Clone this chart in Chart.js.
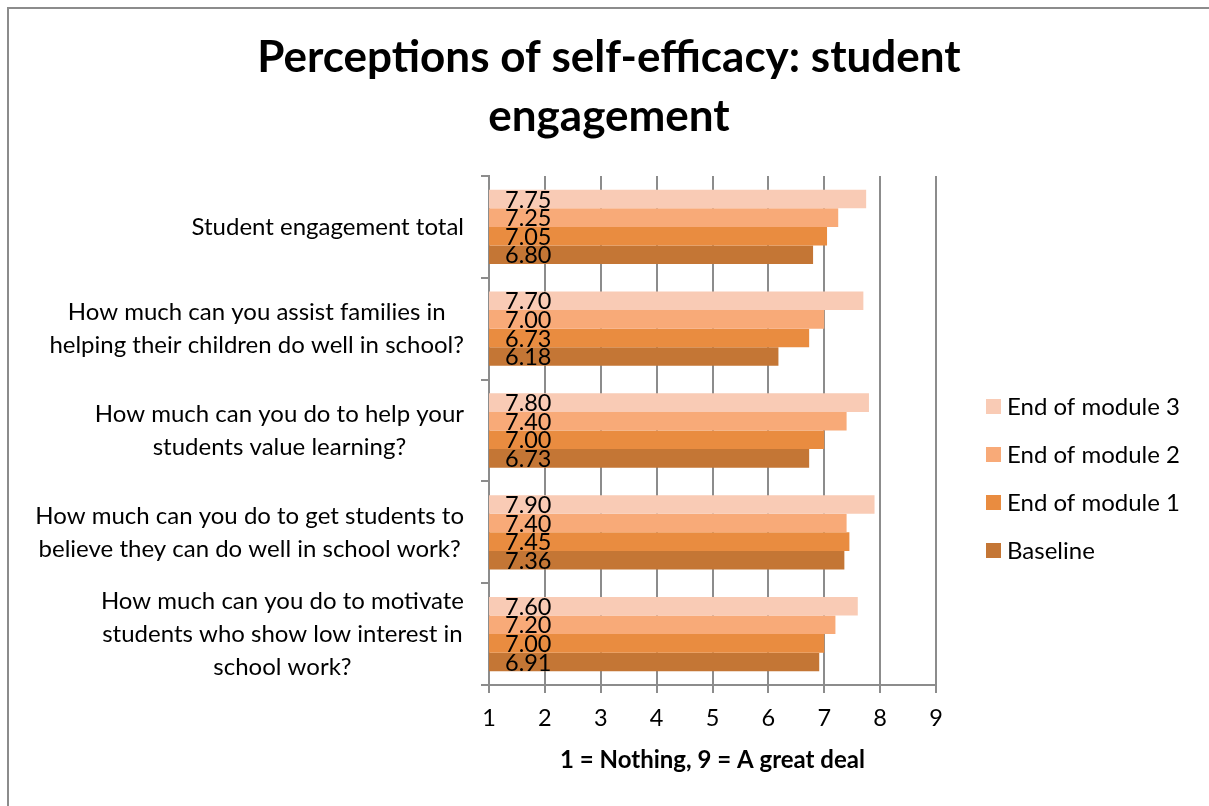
<!DOCTYPE html>
<html>
<head>
<meta charset="utf-8">
<script src="https://cdn.jsdelivr.net/npm/chart.js@4"></script>
<style>
  body { margin: 0; background: #fff; }
  #frame { position: absolute; left: 7px; top: 7px; width: 1400px; height: 1000px;
           border-left: 2px solid #8c8c8c; border-top: 2px solid #8c8c8c; }
  #wrap { position: absolute; left: 0; top: 0; width: 1209px; height: 806px; }
</style>
</head>
<body>
<div id="frame"></div>
<div id="wrap"><canvas id="chart" width="1209" height="806"></canvas></div>
<script>
// data
const titleLines = ['Perceptions of self-efficacy: student', 'engagement'];
const categories = [
  ['Student engagement total'],
  ['How much can you assist families in', 'helping their children do well in school?'],
  ['How much can you do to help your', 'students value learning?'],
  ['How much can you do to get students to', 'believe they can do well in school work?'],
  ['How much can you do to motivate', 'students who show low interest in', 'school work?']
];
const seriesNames = ['End of module 3', 'End of module 2', 'End of module 1', 'Baseline'];
const module3 = [7.75, 7.70, 7.80, 7.90, 7.60];
const module2 = [7.25, 7.00, 7.40, 7.40, 7.20];
const module1 = [7.05, 6.73, 7.00, 7.45, 7.00];
const baseline = [6.80, 6.18, 6.73, 7.36, 6.91];
const xTicks = [1, 2, 3, 4, 5, 6, 7, 8, 9];

const colors = ['#f9cbb5', '#f8aa78', '#e98c40', '#c47635'];
const FONT = 'Lato';
const gray = '#8c8c8c';

// title centred on the whole frame, not just the plot
const frameTitle = {
  id: 'frameTitle',
  afterDraw(chart) {
    const ctx = chart.ctx;
    ctx.save();
    ctx.font = 'bold 44px ' + FONT;
    ctx.fillStyle = '#000';
    ctx.textAlign = 'center';
    ctx.textBaseline = 'middle';
    titleLines.forEach((t, k) => ctx.fillText(t, 609, 58 + k * 59));
    ctx.restore();
  }
};

// bar value labels, drawn at the base of each bar
const valueLabels = {
  id: 'valueLabels',
  afterDatasetsDraw(chart) {
    const ctx = chart.ctx;
    const x0 = chart.scales.x.getPixelForValue(chart.scales.x.min);
    ctx.save();
    ctx.font = '23.5px ' + FONT;
    ctx.fillStyle = '#000';
    ctx.textAlign = 'left';
    ctx.textBaseline = 'middle';
    chart.data.datasets.forEach((ds, i) => {
      chart.getDatasetMeta(i).data.forEach((bar, j) => {
        ctx.fillText(ds.data[j].toFixed(2), x0 + 16, bar.y + 1);
      });
    });
    ctx.restore();
  }
};

// category labels: block right-aligned, lines centred inside the block
const catLabels = {
  id: 'catLabels',
  afterDraw(chart) {
    const ctx = chart.ctx;
    const y = chart.scales.y;
    ctx.save();
    ctx.font = '24px ' + FONT;
    ctx.fillStyle = '#000';
    ctx.textAlign = 'center';
    ctx.textBaseline = 'middle';
    const lh = 33;
    categories.forEach((lines, i) => {
      const widest = Math.max(...lines.map(l => ctx.measureText(l).width));
      const cx = y.right - 25 - widest / 2;
      const cy = y.getPixelForTick(i);
      lines.forEach((l, k) => {
        ctx.fillText(l, cx, cy + (k - (lines.length - 1) / 2) * lh);
      });
    });
    ctx.restore();
  }
};

// legend on the right
const sideLegend = {
  id: 'sideLegend',
  afterDraw(chart) {
    const ctx = chart.ctx;
    const x0 = chart.chartArea.right + 50;
    ctx.save();
    ctx.font = '24px ' + FONT;
    ctx.textAlign = 'left';
    ctx.textBaseline = 'middle';
    chart.data.datasets.forEach((ds, i) => {
      const cy = 406 + i * 48;
      ctx.fillStyle = ds.backgroundColor;
      ctx.fillRect(x0, cy - 7, 15, 15);
      ctx.fillStyle = '#000';
      ctx.fillText(ds.label, x0 + 21, cy + 1);
    });
    ctx.restore();
  }
};

const series = [module3, module2, module1, baseline];

new Chart(document.getElementById('chart'), {
  type: 'bar',
  data: {
    labels: categories.map(c => c.join(' ')),
    datasets: series.map((d, i) => ({
      label: seriesNames[i],
      data: d,
      backgroundColor: colors[i],
      categoryPercentage: 0.73,
      barPercentage: 1
    }))
  },
  options: {
    indexAxis: 'y',
    responsive: false,
    animation: false,
    layout: { padding: { left: 0, right: 273, top: 176, bottom: 0 } },
    plugins: {
      legend: { display: false },
      tooltip: { enabled: false },
      title: { display: false }
    },
    scales: {
      x: {
        min: 1, max: 9,
        afterBuildTicks: s => { s.ticks = xTicks.map(v => ({ value: v })); },
        afterFit: s => { s.height = 121; },
        grid: { color: gray, lineWidth: 2, tickLength: 8 },
        border: { color: gray, width: 2 },
        ticks: { color: '#000', font: { family: FONT, size: 23.5 }, padding: 11 },
        title: {
          display: true,
          text: '1 = Nothing, 9 = A great deal',
          color: '#000',
          font: { family: FONT, size: 24, weight: 'bold' },
          padding: { top: 0, bottom: 31 }
        }
      },
      y: {
        afterFit: s => { s.width = 489; },
        grid: { drawOnChartArea: false, color: gray, lineWidth: 2, tickLength: 8, offset: true },
        border: { color: gray, width: 2 },
        ticks: { display: false }
      }
    }
  },
  plugins: [frameTitle, valueLabels, catLabels, sideLegend]
});
</script>
</body>
</html>
